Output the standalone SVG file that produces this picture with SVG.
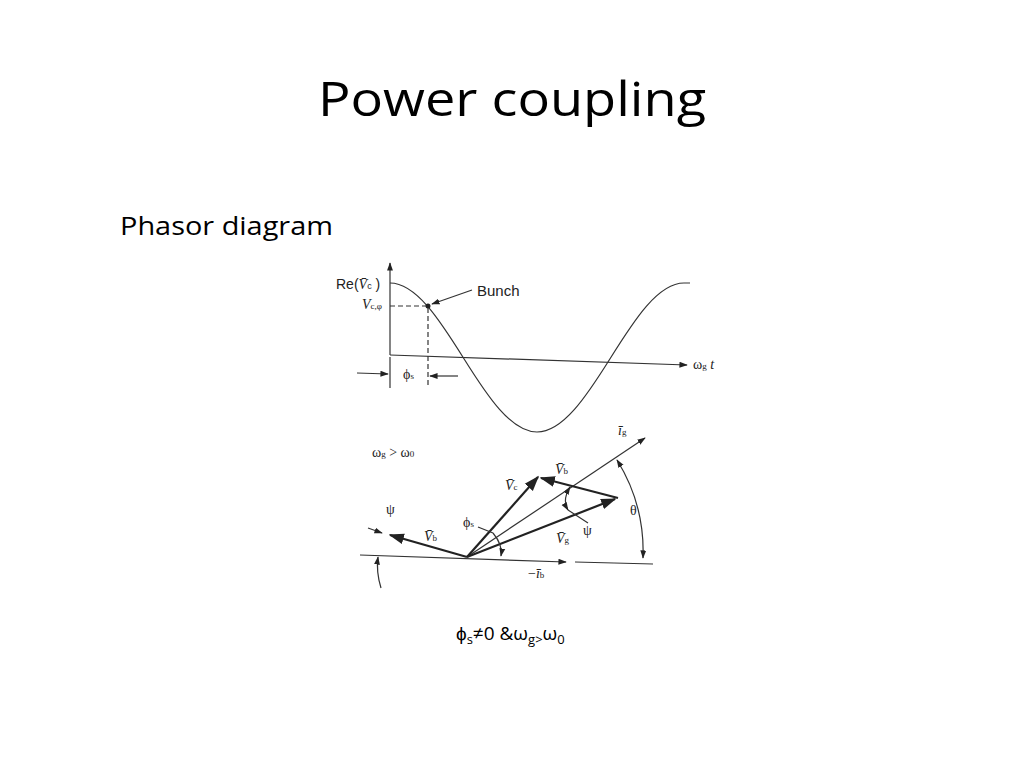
<svg xmlns="http://www.w3.org/2000/svg" width="1024" height="768" viewBox="0 0 1024 768">
<defs>
<marker id="a" viewBox="0 0 10 10" refX="9" refY="5" markerWidth="7" markerHeight="7" orient="auto-start-reverse"><path d="M0,1.5 L10,5 L0,8.5 Z" fill="#222"/></marker>
</defs>
<style>
.t{font-family:"Open Sans","Liberation Sans",Arial,sans-serif;fill:#000}
.a{font-family:"Liberation Sans",Arial,sans-serif;fill:#222}
.s{font-family:"Liberation Serif","Times New Roman",serif;fill:#222;font-size:14px}
.l{stroke:#333;fill:none;stroke-width:1.2}
.h{stroke:#222;fill:none;stroke-width:2.2}
</style>
<rect width="1024" height="768" fill="#fff"/>
<text class="t" x="318" y="116" font-size="48" textLength="388" lengthAdjust="spacingAndGlyphs">Power coupling</text>
<text class="t" x="120" y="235" font-size="26" textLength="213" lengthAdjust="spacingAndGlyphs">Phasor diagram</text>
<g id="plot">
<path class="l" d="M390,355 L390,263" marker-end="url(#a)"/>
<path class="l" d="M390,355 L687,365" marker-end="url(#a)"/>
<path class="l" d="M390,283 C415.9,283 439.5,319.6 463.5,358 S511.1,432 537,432 S586.5,396.4 610.5,358 S658.1,283 684,283 L690,283"/>
<path class="l" stroke-dasharray="5,3" d="M390,306 L428,306 L428,388"/>
<circle cx="428" cy="306" r="2.5" fill="#222"/>
<path class="l" d="M472,290 L432,304" marker-end="url(#a)"/>
<path class="l" d="M390,357 L390,388"/>
<path class="l" d="M357,373 L388,374" marker-end="url(#a)"/>
<path class="l" d="M458,376 L430,376" marker-end="url(#a)"/>
<text class="a" x="336" y="289" font-size="14">Re(<tspan font-family="Liberation Serif" font-style="italic">V̄</tspan><tspan font-size="9">c</tspan> )</text>
<text class="s" x="362" y="309" font-style="italic">V<tspan font-size="9" font-style="normal">c,φ</tspan></text>
<text class="a" x="477" y="296" font-size="15">Bunch</text>
<text class="s" x="403" y="379">ϕ<tspan font-size="9">s</tspan></text>
<text class="s" x="693" y="369">ω<tspan font-size="9">g</tspan> <tspan font-style="italic">t</tspan></text>
</g>
<g id="phasor">
<path class="l" d="M360,555 L566,562" marker-end="url(#a)"/>
<path class="l" d="M575,562 L653,564"/>
<path class="l" d="M467,557 L645,438" marker-end="url(#a)"/>
<path class="h" d="M467,557 L538,477" marker-end="url(#a)"/>
<path class="h" d="M467,557 L615,499" marker-end="url(#a)"/>
<path class="h" d="M618,498 L541,478" marker-end="url(#a)"/>
<path class="h" d="M467,557 L390,535" marker-end="url(#a)"/>
<path class="l" d="M570,487 Q562,500 568,510" marker-start="url(#a)" marker-end="url(#a)"/>
<path class="l" d="M568,510 L588,523"/>
<path class="l" d="M617,460 Q645,505 643,558" marker-start="url(#a)" marker-end="url(#a)"/>
<path class="l" d="M493,533 Q503,545 501,556" marker-end="url(#a)"/>
<path class="l" d="M478,527 L493,533"/>
<path class="l" d="M368,528 L382,533" marker-end="url(#a)"/>
<path class="l" d="M381,588 Q376,572 378,557" marker-end="url(#a)"/>
<text class="s" x="372" y="457">ω<tspan font-size="9">g</tspan> &gt; ω<tspan font-size="9">0</tspan></text>
<text class="s" x="386" y="514">ψ</text>
<text class="s" x="424" y="541" font-style="italic">V̄<tspan font-size="9" font-style="normal">b</tspan></text>
<text class="s" x="463" y="527">ϕ<tspan font-size="9">s</tspan></text>
<text class="s" x="505" y="490" font-style="italic">V̄<tspan font-size="9" font-style="normal">c</tspan></text>
<text class="s" x="555" y="474" font-style="italic">V̄<tspan font-size="9" font-style="normal">b</tspan></text>
<text class="s" x="556" y="543" font-style="italic">V̄<tspan font-size="9" font-style="normal">g</tspan></text>
<text class="s" x="583" y="535">ψ</text>
<text class="s" x="630" y="515">θ</text>
<text class="s" x="618" y="435" font-style="italic">ī<tspan font-size="9" font-style="normal">g</tspan></text>
<text class="s" x="528" y="578">−<tspan font-style="italic">ī</tspan><tspan font-size="9">b</tspan></text>
</g>
<text class="t" x="456" y="640" font-size="19">ϕ<tspan font-size="13" dy="4">s</tspan><tspan dy="-4">≠0 &amp;ω</tspan><tspan font-size="13" dy="4">g&gt;</tspan><tspan dy="-4">ω</tspan><tspan font-size="13" dy="4">0</tspan></text>
</svg>
